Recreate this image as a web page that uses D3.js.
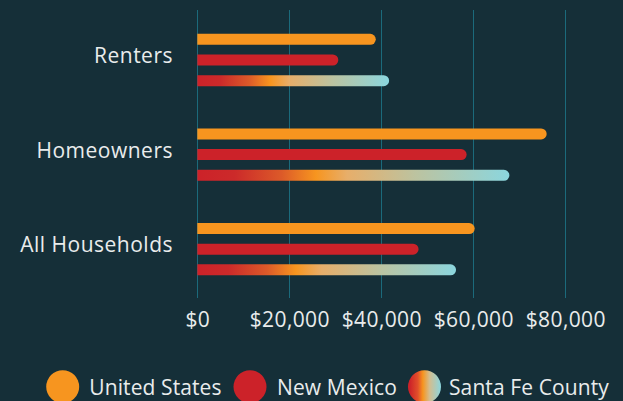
<!DOCTYPE html>
<html>
<head>
<meta charset="utf-8">
<script src="https://cdn.jsdelivr.net/npm/d3@7"></script>
<style>
html,body{margin:0;padding:0;background:#152f38;}
svg{display:block;}
text{font-family:"Open Sans","Noto Sans",sans-serif;fill:#e9ecec;}
</style>
</head>
<body>
<svg id="chart" width="623" height="401"></svg>
<script>
const groups = ["Renters", "Homeowners", "All Households"];
const seriesNames = ["United States", "New Mexico", "Santa Fe County"];
const unitedStates = [38800, 75950, 60300];
const newMexico = [30650, 58550, 48100];
const santaFeCounty = [41700, 67850, 56250];
const tickValues = [0, 20000, 40000, 60000, 80000];

const seriesValues = [unitedStates, newMexico, santaFeCounty];
const data = [];
groups.forEach((g, gi) => seriesNames.forEach((s, si) => data.push({group: g, series: s, value: seriesValues[si][gi]})));

const svg = d3.select("#chart");
const W = 623, H = 401;
svg.append("rect").attr("width", W).attr("height", H).attr("fill", "#152f38");

const defs = svg.append("defs");
const grad = defs.append("linearGradient").attr("id", "sfGrad")
  .attr("x1", "0%").attr("x2", "100%").attr("y1", "0%").attr("y2", "0%");
[[0, "#cc2229"], [0.12, "#cc2a2a"], [0.27, "#dc5a29"], [0.38, "#f7951f"], [0.48, "#e7ae6a"], [0.7, "#bcc3a0"], [1, "#8bd6de"]]
  .forEach(([o, c]) => grad.append("stop").attr("offset", o).attr("stop-color", c));
const gradC = defs.append("linearGradient").attr("id", "sfGradCircle")
  .attr("x1", "0%").attr("x2", "100%").attr("y1", "0%").attr("y2", "0%");
[[0.05, "#cc2229"], [0.3, "#e2502a"], [0.45, "#f7951f"], [0.65, "#d4bd8e"], [1, "#8bd6de"]]
  .forEach(([o, c]) => gradC.append("stop").attr("offset", o).attr("stop-color", c));

const colors = {"United States": "#f7951f", "New Mexico": "#cc2229", "Santa Fe County": "url(#sfGrad)"};
const legendColors = {"United States": "#f7951f", "New Mexico": "#cc2229", "Santa Fe County": "url(#sfGradCircle)"};

const x = d3.scaleLinear().domain([0, 80000]).range([197.3, 565.3]);
const y0 = d3.scaleBand().domain(groups).range([12.7, 296.5]).padding(0);
const y1 = d3.scaleBand().domain(seriesNames).range([-31, 31]).padding(0);
const barH = 11;

// gridlines
const grid = svg.append("g");
grid.selectAll("line").data(tickValues).join("line")
  .attr("x1", d => Math.round(x(d)) + 0.5).attr("x2", d => Math.round(x(d)) + 0.5)
  .attr("y1", 10).attr("y2", 298)
  .attr("stroke", "#1b6a7b").attr("stroke-width", 1);

// axis labels
const axis = d3.axisBottom(x).tickValues(tickValues).tickSize(0).tickPadding(0)
  .tickFormat(d => "$" + d3.format(",")(d));
const ax = svg.append("g").attr("transform", "translate(0,327)").call(axis);
ax.select(".domain").remove();
ax.selectAll("text").attr("dy", 0).attr("font-size", 21).attr("fill", "#e9ecec")
  .attr("letter-spacing", 0.4)
  .style("font-family", '"Open Sans","Noto Sans",sans-serif');

// bars
function barPath(x0, x1, yc, h) {
  const r = h / 2;
  const yt = yc - r, yb = yc + r;
  const p = d3.path();
  p.moveTo(x0, yt);
  p.lineTo(Math.max(x0, x1 - r), yt);
  p.arc(Math.max(x0, x1 - r), yc, r, -Math.PI / 2, Math.PI / 2);
  p.lineTo(x0, yb);
  p.closePath();
  return p.toString();
}
svg.append("g").selectAll("path").data(data).join("path")
  .attr("d", d => barPath(x(0), x(d.value), y0(d.group) + y0.bandwidth() / 2 + y1(d.series) + y1.bandwidth() / 2, barH))
  .attr("fill", d => colors[d.series]);

// category labels
svg.append("g").selectAll("text").data(groups).join("text")
  .attr("x", 173)
  .attr("y", d => y0(d) + y0.bandwidth() / 2 + 3)
  .attr("text-anchor", "end")
  .attr("font-size", 21)
  .attr("letter-spacing", 0.5)
  .text(d => d);

// legend
const legendX = [62.7, 250, 424.5];
const legendTextX = [89.3, 277, 449];
const lg = svg.append("g").selectAll("g").data(seriesNames).join("g");
lg.append("circle").attr("cx", (d, i) => legendX[i]).attr("cy", 386.7).attr("r", 16.5)
  .attr("fill", d => legendColors[d]);
lg.append("text").attr("x", (d, i) => legendTextX[i]).attr("y", 394.7)
  .attr("font-size", 21).attr("letter-spacing", 0.1).text(d => d);
</script>
</body>
</html>
